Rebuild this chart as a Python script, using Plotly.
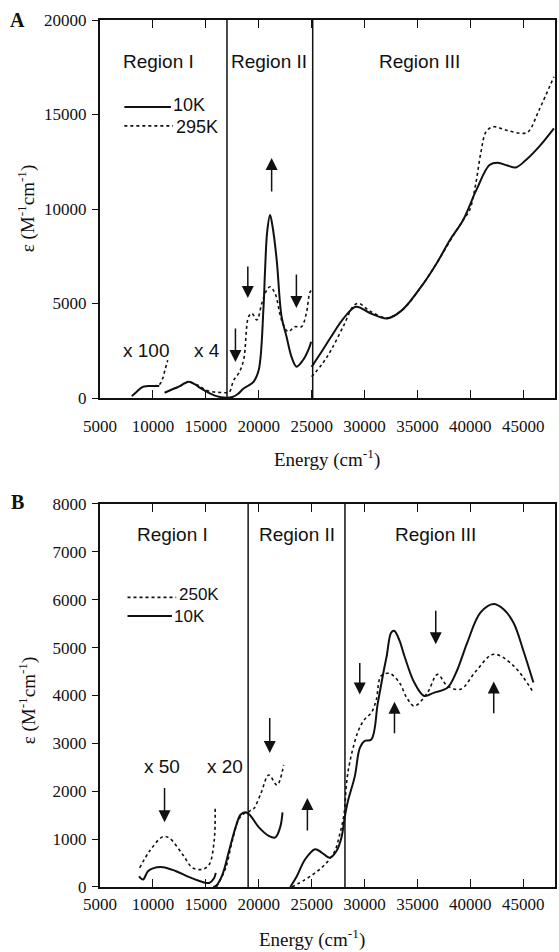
import plotly.graph_objects as go

# ---------------- Panel A data (energy cm^-1, epsilon M^-1 cm^-1) ----------------
A_10K_x100_E = [8000, 8500, 9000, 9500, 10000, 10600]
A_10K_x100_v = [100, 350, 580, 630, 640, 640]
A_10K_low_E = [11100, 11800, 12500, 13000, 13400, 13900, 14500, 15300, 16000, 16900,
               17500, 18000, 18570, 19000, 19510, 20000, 20440, 20600, 20800, 21070,
               21300, 21700, 22160, 22630, 23100, 23570, 24190, 24750, 24950]
A_10K_low_v = [280, 450, 620, 780, 860, 750, 520, 270, 100, 20,
               50, 200, 500, 650, 860, 1480, 4660, 6770, 8800, 9680,
               9100, 7300, 4300, 3240, 2180, 1660, 2010, 2630, 2980]
A_10K_III_E = [25000, 26000, 26840, 28000, 29180, 30500, 32140, 33550, 35580, 36820,
               38070, 39320, 40570, 41810, 42600, 43500, 44300, 45250, 46500, 47900]
A_10K_III_v = [1650, 2500, 3240, 4200, 4830, 4500, 4210, 4650, 6070, 7130,
               8360, 9420, 11010, 12330, 12450, 12300, 12200, 12590, 13300, 14270]

A_295K_x100_E = [9500, 10000, 10600, 10900, 11150, 11400]
A_295K_x100_v = [630, 640, 700, 1000, 1500, 2000]
A_295K_low_E = [12000, 12500, 13000, 13400, 13900, 14500, 15000, 15600, 16200, 16800,
                17200, 17640, 18100, 18570, 19040, 19350, 19820, 20290, 20750, 21070,
                21540, 22160, 22780, 23400, 24030, 24500, 24800, 24950]
A_295K_low_v = [500, 620, 780, 860, 780, 600, 420, 330, 300, 280,
                300, 950, 1300, 2000, 4300, 4480, 4130, 5000, 5710, 5890,
                5540, 4130, 3510, 3770, 3770, 4480, 5540, 5700]
A_295K_III_E = [25000, 26000, 26840, 28000, 29000, 29500, 30500, 32140, 33550, 35580,
                37000, 38500, 39320, 39940, 40500, 41000, 41500, 42200, 43500, 45000,
                45500, 46500, 47900]
A_295K_III_v = [1130, 1800, 2540, 3800, 4900, 5000, 4600, 4250, 4650, 6070,
                7300, 8700, 9420, 9950, 11300, 13000, 14100, 14350, 14150, 14000,
                14100, 15240, 17000]

# ---------------- Panel B data ----------------
B_10K_x50_E = [8690, 9060, 9530, 10000, 10940, 12190, 13440, 14690, 15320, 15790, 15940]
B_10K_x50_v = [225, 155, 330, 390, 415, 330, 205, 105, 85, 190, 295]
B_10K_x20_E = [15700, 16000, 16570, 17190, 17820, 18280, 18750, 19220, 20000, 20940,
               21570, 22030, 22250]
B_10K_x20_v = [0, 30, 260, 750, 1250, 1510, 1560, 1490, 1250, 1070, 1035, 1250, 1560]
B_10K_main_E = [22980, 23600, 24390, 25330, 25950, 26730, 27350, 27820, 28130, 28450,
                29080, 29550, 30000, 30640, 31260, 31800, 32100, 32510, 32800, 33300,
                33760, 34700, 35640, 36580, 37830, 38700, 39700, 40950, 42200, 43140,
                44080, 45020, 45960]
B_10K_main_v = [0, 225, 580, 790, 720, 610, 750, 1035, 1460, 1810,
                2310, 2900, 3050, 3080, 3850, 4500, 4830, 5310, 5350, 5150,
                4830, 4270, 3990, 4060, 4160, 4500, 5100, 5730, 5910, 5800,
                5520, 4930, 4270]

B_250K_x50_E = [8750, 9690, 10940, 11560, 12810, 13750, 14690, 15320, 15790, 15880]
B_250K_x50_v = [400, 750, 1050, 1020, 680, 400, 370, 470, 965, 1670]
B_250K_x20_E = [16000, 16880, 17500, 18130, 18590, 19000, 19380, 19540, 20200, 20950,
                21730, 22350]
B_250K_x20_v = [0, 400, 965, 1420, 1530, 1560, 1630, 1640, 1950, 2340, 2130, 2550]
B_250K_main_E = [23140, 24390, 25330, 26260, 27190, 27660, 28070, 28300, 28600, 29390,
                 30000, 30640, 31100, 31570, 32360, 33290, 34000, 34700, 35950, 36890,
                 37830, 39080, 40500, 42200, 44080, 45960]
B_250K_main_v = [0, 155, 295, 470, 750, 1105, 1530, 2170, 2600, 3250,
                 3500, 3640, 3900, 4410, 4460, 4270, 3950, 3780, 4060, 4440,
                 4200, 4130, 4500, 4860, 4620, 4060]

A_regions = [17000, 25100]
B_regions = [19000, 28150]
x_ticks = [5000, 10000, 15000, 20000, 25000, 30000, 35000, 40000, 45000]
A_y_ticks = [0, 5000, 10000, 15000, 20000]
B_y_ticks = [0, 1000, 2000, 3000, 4000, 5000, 6000, 7000, 8000]


def join(*segs):
    xs, ys = [], []
    for i in range(0, len(segs), 2):
        if xs:
            xs.append(None)
            ys.append(None)
        xs += segs[i]
        ys += segs[i + 1]
    return xs, ys


SERIF = "Liberation Serif"
SANS = "Liberation Sans"
BLACK = "#111111"

fig = go.Figure()

solid = dict(color=BLACK, width=2)
dotted = dict(color=BLACK, width=1.6, dash="dot")

x, y = join(A_10K_x100_E, A_10K_x100_v, A_10K_low_E, A_10K_low_v, A_10K_III_E, A_10K_III_v)
fig.add_trace(go.Scatter(x=x, y=y, mode="lines", line=solid, xaxis="x", yaxis="y",
                         connectgaps=False, showlegend=False, line_shape="spline"))
x, y = join(A_295K_x100_E, A_295K_x100_v, A_295K_low_E, A_295K_low_v, A_295K_III_E, A_295K_III_v)
fig.add_trace(go.Scatter(x=x, y=y, mode="lines", line=dotted, xaxis="x", yaxis="y",
                         connectgaps=False, showlegend=False, line_shape="spline"))
x, y = join(B_10K_x50_E, B_10K_x50_v, B_10K_x20_E, B_10K_x20_v, B_10K_main_E, B_10K_main_v)
fig.add_trace(go.Scatter(x=x, y=y, mode="lines", line=solid, xaxis="x2", yaxis="y2",
                         connectgaps=False, showlegend=False, line_shape="spline"))
x, y = join(B_250K_x50_E, B_250K_x50_v, B_250K_x20_E, B_250K_x20_v, B_250K_main_E, B_250K_main_v)
fig.add_trace(go.Scatter(x=x, y=y, mode="lines", line=dotted, xaxis="x2", yaxis="y2",
                         connectgaps=False, showlegend=False, line_shape="spline"))

tickfont = dict(family=SERIF, size=17, color=BLACK)
A_dom = [0.564, 1.0]
B_dom = [0.0, 0.4418]

common_x = dict(range=[5000, 48000], tickvals=x_ticks, ticktext=[str(v) for v in x_ticks],
                ticks="inside", ticklen=8,
                tickwidth=1.3, tickcolor=BLACK, showline=True, linecolor=BLACK,
                linewidth=2, mirror="ticks", showgrid=False, zeroline=False,
                tickfont=tickfont, domain=[0, 1])
common_y = dict(ticks="outside", ticklen=6, tickwidth=1.3, tickcolor=BLACK,
                showline=True, linecolor=BLACK, linewidth=2, mirror=True,
                showgrid=False, zeroline=False, tickfont=tickfont, ticklabelstandoff=2)

fig.update_layout(
    width=559, height=952,
    margin=dict(l=100, r=2, t=20, b=65),
    paper_bgcolor="white", plot_bgcolor="white",
    xaxis=dict(common_x, anchor="y", ticklabelstandoff=12),
    yaxis=dict(common_y, domain=A_dom, anchor="x", range=[0, 20000], tickvals=A_y_ticks,
               ticktext=[str(v) for v in A_y_ticks]),
    xaxis2=dict(common_x, anchor="y2", ticklabelstandoff=1),
    yaxis2=dict(common_y, domain=B_dom, anchor="x2", range=[0, 8000], tickvals=B_y_ticks,
                ticktext=[str(v) for v in B_y_ticks]),
    yaxis3=dict(overlaying="y", side="right", anchor="x", range=[0, 20000],
                tickvals=A_y_ticks, ticks="inside", ticklen=8, tickwidth=1.3,
                tickcolor=BLACK, showticklabels=False, showline=False,
                showgrid=False, zeroline=False),
    yaxis4=dict(overlaying="y2", side="right", anchor="x2", range=[0, 8000],
                tickvals=B_y_ticks, ticks="inside", ticklen=8, tickwidth=1.3,
                tickcolor=BLACK, showticklabels=False, showline=False,
                showgrid=False, zeroline=False),
    showlegend=False,
)

shapes = []
for e in A_regions:
    shapes.append(dict(type="line", xref="x", yref="y", x0=e, x1=e, y0=0, y1=20000,
                       line=dict(color=BLACK, width=1.5)))
for e in B_regions:
    shapes.append(dict(type="line", xref="x2", yref="y2", x0=e, x1=e, y0=0, y1=8000,
                       line=dict(color=BLACK, width=1.5)))
# legend samples
shapes.append(dict(type="line", xref="x", yref="y", x0=7300, x1=11700, y0=15400, y1=15400,
                   line=dict(color=BLACK, width=2)))
shapes.append(dict(type="line", xref="x", yref="y", x0=7300, x1=11900, y0=14400, y1=14400,
                   line=dict(color=BLACK, width=1.6, dash="dot")))
shapes.append(dict(type="line", xref="x2", yref="y2", x0=7600, x1=12200, y0=6050, y1=6050,
                   line=dict(color=BLACK, width=1.6, dash="dot")))
shapes.append(dict(type="line", xref="x2", yref="y2", x0=7600, x1=11800, y0=5660, y1=5660,
                   line=dict(color=BLACK, width=2)))
fig.update_layout(shapes=shapes)

ann = []


def text(s, xv, yv, xr, yr, size=19, family=SANS, xanchor="center", **kw):
    ann.append(dict(text=s, x=xv, y=yv, xref=xr, yref=yr, showarrow=False,
                    xanchor=xanchor, yanchor="middle",
                    font=dict(family=family, size=size, color=BLACK), **kw))


def arrow(xv, y_tail, y_head, xr, yr):
    ann.append(dict(text="", x=xv, y=y_head, ax=xv, ay=y_tail, xref=xr, yref=yr,
                    axref=xr, ayref=yr, showarrow=True, arrowhead=2, arrowsize=1.6,
                    arrowwidth=1.5, arrowcolor=BLACK))


# Panel A labels
text("Region I", 10500, 17830, "x", "y")
text("Region II", 20950, 17830, "x", "y")
text("Region III", 35150, 17830, "x", "y")
text("10K", 11700, 15500, "x", "y", size=18, xanchor="left")
text("295K", 12000, 14350, "x", "y", size=18, xanchor="left")
text("x 100", 9300, 2540, "x", "y")
text("x 4", 15150, 2540, "x", "y")
arrow(17800, 3760, 1900, "x", "y")
arrow(18970, 7040, 5290, "x", "y")
arrow(21220, 10850, 12700, "x", "y")
arrow(23560, 6610, 4760, "x", "y")

# Panel B labels
text("Region I", 11850, 7370, "x2", "y2")
text("Region II", 23600, 7370, "x2", "y2")
text("Region III", 36700, 7370, "x2", "y2")
text("250K", 12300, 6100, "x2", "y2", size=17, xanchor="left")
text("10K", 11850, 5640, "x2", "y2", size=17, xanchor="left")
text("x 50", 10900, 2510, "x2", "y2")
text("x 20", 16800, 2510, "x2", "y2")
arrow(11100, 2100, 1350, "x2", "y2")
arrow(21040, 3560, 2800, "x2", "y2")
arrow(24600, 1150, 1860, "x2", "y2")
arrow(29550, 4710, 4020, "x2", "y2")
arrow(32830, 3180, 3870, "x2", "y2")
arrow(36730, 5800, 5070, "x2", "y2")
arrow(42210, 3600, 4290, "x2", "y2")


# Axis titles and panel letters (paper coords)
def px_x(p):
    return (p - 100) / 457.0


def px_y(p):
    return (887 - p) / 867.0


ytitle = "\u03b5 (M<sup>-1</sup>cm<sup>-1</sup>)"
ann.append(dict(text=ytitle, x=px_x(27), y=px_y(208), xref="paper", yref="paper",
                showarrow=False, textangle=-90, xanchor="center", yanchor="middle",
                font=dict(family=SERIF, size=19, color=BLACK)))
ann.append(dict(text=ytitle, x=px_x(27), y=px_y(700), xref="paper", yref="paper",
                showarrow=False, textangle=-90, xanchor="center", yanchor="middle",
                font=dict(family=SERIF, size=19, color=BLACK)))
xtitle = "Energy (cm<sup>-1</sup>)"
ann.append(dict(text=xtitle, x=px_x(328), y=px_y(458), xref="paper", yref="paper",
                showarrow=False, xanchor="center", yanchor="middle",
                font=dict(family=SERIF, size=19, color=BLACK)))
ann.append(dict(text=xtitle, x=px_x(313), y=px_y(938), xref="paper", yref="paper",
                showarrow=False, xanchor="center", yanchor="middle",
                font=dict(family=SERIF, size=19, color=BLACK)))
ann.append(dict(text="<b>A</b>", x=px_x(17), y=px_y(20), xref="paper", yref="paper",
                showarrow=False, xanchor="center", yanchor="middle",
                font=dict(family=SERIF, size=20, color=BLACK)))
ann.append(dict(text="<b>B</b>", x=px_x(17), y=px_y(502), xref="paper", yref="paper",
                showarrow=False, xanchor="center", yanchor="middle",
                font=dict(family=SERIF, size=20, color=BLACK)))

fig.update_layout(annotations=ann)

fig.write_html("out.html")
